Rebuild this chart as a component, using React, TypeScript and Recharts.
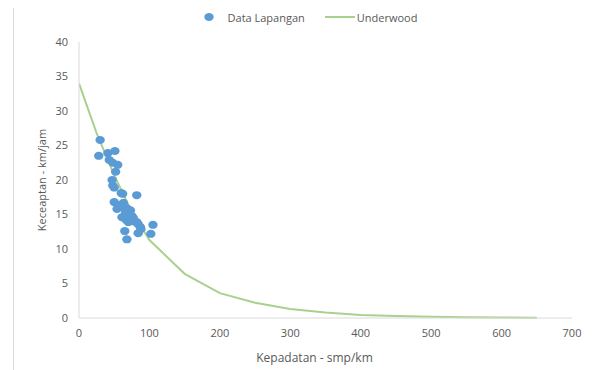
import React from "react";
import {
  ComposedChart,
  Scatter,
  Line,
  XAxis,
  YAxis,
  ZAxis,
  Legend,
} from "recharts";

// Data Lapangan (field survey): density smp/km vs speed km/jam
const kepadatan = [
  30, 28, 41, 51, 43, 48, 55, 52, 47, 48, 50, 60, 62, 82, 50, 63, 58, 68, 54, 72,
  66, 61, 71, 77, 67, 70, 82, 75, 87, 84, 105, 65, 84, 102, 68, 73, 64, 69, 78, 88,
];
const kecepatan = [
  25.8, 23.5, 23.9, 24.2, 22.9, 22.5, 22.2, 21.2, 20, 19.2, 18.9, 18.1, 18, 17.8, 16.8,
  16.7, 16.3, 15.9, 15.8, 15.4, 15.2, 14.6, 14.6, 14.5, 14.2, 13.9, 13.9, 14.8, 13.2,
  13.6, 13.5, 12.6, 12.3, 12.2, 11.4, 15.6, 16, 14.9, 14, 12.9,
];

// Underwood model curve
const underwoodK = [0, 25, 50, 75, 100, 150, 200, 250, 300, 350, 400, 450, 500, 550, 600, 650];
const underwoodV = [34, 26.8, 20.7, 15.4, 11.3, 6.4, 3.6, 2.2, 1.3, 0.8, 0.45, 0.3, 0.18, 0.12, 0.08, 0.05];

const xTicks = [0, 100, 200, 300, 400, 500, 600, 700];
const yTicks = [0, 5, 10, 15, 20, 25, 30, 35, 40];

const BLUE = "#5b9bd5";
const GREEN = "#a9d18e";
const TEXT = "#595959";
const AXIS = "#d9d9d9";
const FONT = "'Open Sans', sans-serif";

const fieldData = kepadatan.map((k, i) => ({ k, v: kecepatan[i] }));
const modelData = underwoodK.map((k, i) => ({ k, v: underwoodV[i] }));

const Dot = (props: any) => {
  const { cx, cy } = props;
  return <ellipse cx={cx} cy={cy} rx={4.7} ry={4} fill={BLUE} />;
};

const LegendBox = () => (
  <div
    style={{
      height: 20,
      display: "flex",
      alignItems: "center",
      justifyContent: "center",
      fontFamily: FONT,
      fontSize: 11,
      color: TEXT,
      paddingLeft: 24,
    }}
  >
    <svg width={10} height={10} style={{ marginRight: 14 }}>
      <ellipse cx={5} cy={5} rx={4.7} ry={4} fill={BLUE} />
    </svg>
    <span style={{ marginRight: 20 }}>Data Lapangan</span>
    <svg width={30} height={10} style={{ marginRight: 2 }}>
      <line x1={0} y1={5} x2={30} y2={5} stroke={GREEN} strokeWidth={2} />
    </svg>
    <span>Underwood</span>
  </div>
);

export default function App() {
  return (
    <div style={{ position: "relative", width: 597, height: 370, margin: "-8px 0 0 -8px", background: "#fff" }}>
      <div
        style={{
          position: "absolute",
          left: 13,
          top: 1,
          right: 0,
          bottom: 0,
          borderLeft: `1px solid ${AXIS}`,
          borderTop: `1px solid ${AXIS}`,
        }}
      />
      <ComposedChart
        width={597}
        height={370}
        margin={{ top: 22, right: 25, bottom: 8, left: 13 }}
        style={{ position: "absolute", left: 0, top: 0 }}
      >
        <XAxis
          type="number"
          dataKey="k"
          domain={[0, 700]}
          ticks={xTicks}
          allowDataOverflow
          height={44}
          stroke={AXIS}
          tickLine={false}
          tickMargin={5}
          tick={{ fill: TEXT, fontSize: 11, fontFamily: FONT }}
          label={{
            value: "Kepadatan - smp/km",
            position: "insideBottom",
            offset: 0,
            dx: -11,
            fill: TEXT,
            fontSize: 12,
            fontFamily: FONT,
          }}
        />
        <YAxis
          type="number"
          dataKey="v"
          domain={[0, 40]}
          ticks={yTicks}
          width={66}
          stroke={AXIS}
          tickLine={false}
          tickMargin={5}
          tick={{ fill: TEXT, fontSize: 11, fontFamily: FONT }}
          label={{
            value: "Keceaptan - km/jam",
            position: "insideLeft",
            angle: -90,
            dx: 24,
            fill: TEXT,
            fontSize: 11,
            fontFamily: FONT,
            style: { textAnchor: "middle" },
          }}
        />
        <ZAxis range={[70, 70]} />
        <Legend verticalAlign="top" content={<LegendBox />} wrapperStyle={{ top: 7, left: 0, width: 597 }} />
        <Line
          data={modelData}
          dataKey="v"
          name="Underwood"
          type="linear"
          stroke={GREEN}
          strokeWidth={2}
          dot={false}
          activeDot={false}
          isAnimationActive={false}
        />
        <Scatter
          data={fieldData}
          dataKey="v"
          name="Data Lapangan"
          fill={BLUE}
          shape={<Dot />}
          isAnimationActive={false}
        />
      </ComposedChart>
    </div>
  );
}
